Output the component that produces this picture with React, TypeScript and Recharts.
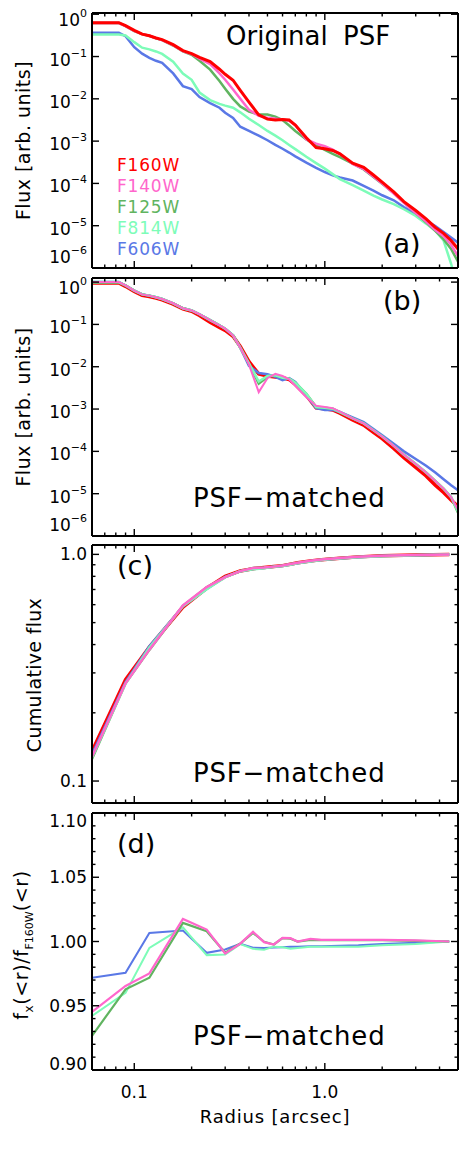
import React from 'react';
import { LineChart, Line, XAxis, YAxis } from 'recharts';

const FONT = '"DejaVu Sans", "Liberation Sans", sans-serif';

// ---------- radii ----------
const profileRadius = [0.06, 0.083, 0.09, 0.1, 0.11, 0.12, 0.13, 0.14, 0.16, 0.18, 0.2, 0.22, 0.25, 0.28, 0.3, 0.33, 0.36, 0.4, 0.45, 0.5, 0.55, 0.6, 0.65, 0.7, 0.8, 0.9, 1.0, 1.1, 1.2, 1.4, 1.6, 1.8, 2.0, 2.3, 2.6, 3.0, 3.4, 3.8, 4.2, 4.6, 5.0];
const apertureRadius = [0.06, 0.09, 0.12, 0.18, 0.24, 0.3, 0.36, 0.42, 0.48, 0.54, 0.6, 0.66, 0.72, 0.84, 0.96, 1.2, 1.5, 2.0, 3.0, 4.5];

// ---------- (a) original PSF profiles ----------
const origF160W = [6.31e-1, 6.31e-1, 5.37e-1, 4.17e-1, 3.39e-1, 3.09e-1, 2.75e-1, 2.51e-1, 1.91e-1, 1.38e-1, 1.17e-1, 9.55e-2, 7.59e-2, 5.01e-2, 3.8e-2, 2.75e-2, 1.58e-2, 8.32e-3, 4.17e-3, 3.31e-3, 3.16e-3, 3.24e-3, 3.16e-3, 2.4e-3, 1.2e-3, 7.08e-4, 6.61e-4, 6.03e-4, 5.01e-4, 3.02e-4, 2.4e-4, 1.58e-4, 1.07e-4, 6.31e-5, 3.72e-5, 2.29e-5, 1.45e-5, 9.12e-6, 6.61e-6, 4.47e-6, 2.82e-6];
const origF140W = [6.17e-1, 6.17e-1, 5.25e-1, 4.07e-1, 3.39e-1, 3.09e-1, 2.75e-1, 2.45e-1, 1.86e-1, 1.35e-1, 1.15e-1, 8.91e-2, 6.61e-2, 3.98e-2, 2.82e-2, 1.66e-2, 1.0e-2, 5.5e-3, 3.98e-3, 3.55e-3, 3.39e-3, 3.24e-3, 3.02e-3, 2.4e-3, 1.1e-3, 8.71e-4, 7.59e-4, 6.31e-4, 5.01e-4, 2.88e-4, 2.19e-4, 1.45e-4, 1.0e-4, 5.75e-5, 3.47e-5, 2.0e-5, 1.26e-5, 7.94e-6, 5.62e-6, 3.55e-6, 1.91e-6];
const origF125W = [6.17e-1, 6.17e-1, 5.25e-1, 3.98e-1, 3.39e-1, 3.09e-1, 2.69e-1, 2.45e-1, 1.82e-1, 1.32e-1, 1.1e-1, 7.94e-2, 4.9e-2, 2.63e-2, 1.74e-2, 1.0e-2, 6.61e-3, 5.01e-3, 4.27e-3, 4.27e-3, 3.8e-3, 3.16e-3, 2.34e-3, 1.74e-3, 1.1e-3, 7.94e-4, 6.17e-4, 5.01e-4, 4.17e-4, 2.95e-4, 2.14e-4, 1.41e-4, 9.77e-5, 5.89e-5, 3.55e-5, 2.0e-5, 1.2e-5, 7.59e-6, 4.79e-6, 2.82e-6, 1.41e-6];
const origF814W = [3.31e-1, 3.31e-1, 3.16e-1, 2.19e-1, 1.62e-1, 1.48e-1, 1.32e-1, 1.15e-1, 7.59e-2, 3.98e-2, 2.82e-2, 1.41e-2, 9.33e-3, 7.59e-3, 6.92e-3, 6.17e-3, 4.79e-3, 3.39e-3, 2.4e-3, 1.74e-3, 1.35e-3, 1.05e-3, 8.13e-4, 6.46e-4, 4.27e-4, 3.02e-4, 2.24e-4, 1.66e-4, 1.26e-4, 9.12e-5, 6.76e-5, 5.13e-5, 4.17e-5, 3.24e-5, 2.45e-5, 1.7e-5, 1.12e-5, 7.59e-6, 4.47e-6, 1.26e-6, 3.16e-7];
const origF606W = [3.63e-1, 3.63e-1, 3.02e-1, 1.66e-1, 1.17e-1, 9.33e-2, 7.94e-2, 7.08e-2, 3.98e-2, 2.0e-2, 1.7e-2, 1.1e-2, 7.94e-3, 6.17e-3, 4.68e-3, 3.55e-3, 2.19e-3, 1.74e-3, 1.35e-3, 1.05e-3, 8.13e-4, 6.61e-4, 5.37e-4, 4.37e-4, 3.09e-4, 2.34e-4, 1.86e-4, 1.55e-4, 1.38e-4, 1.17e-4, 8.71e-5, 6.76e-5, 5.25e-5, 3.98e-5, 2.75e-5, 1.86e-5, 1.32e-5, 9.77e-6, 7.08e-6, 5.25e-6, 3.98e-6];

// ---------- (b) PSF-matched profiles ----------
const matchF160W = [9.55e-1, 9.55e-1, 7.94e-1, 6.03e-1, 4.9e-1, 4.57e-1, 4.17e-1, 3.8e-1, 3.02e-1, 2.34e-1, 2.04e-1, 1.62e-1, 1.12e-1, 8.51e-2, 7.24e-2, 5.25e-2, 3.02e-2, 1.32e-2, 6.76e-3, 6.03e-3, 5.75e-3, 5.5e-3, 5.01e-3, 3.8e-3, 2.09e-3, 1.07e-3, 1.02e-3, 9.55e-4, 7.94e-4, 5.5e-4, 4.17e-4, 2.82e-4, 2.0e-4, 1.17e-4, 7.08e-5, 4.17e-5, 2.63e-5, 1.58e-5, 1.07e-5, 7.08e-6, 5.01e-6];
const matchF140W = [1.0, 1.0, 8.32e-1, 6.31e-1, 5.13e-1, 4.79e-1, 4.37e-1, 3.98e-1, 3.16e-1, 2.4e-1, 2.14e-1, 1.74e-1, 1.26e-1, 9.55e-2, 7.94e-2, 5.5e-2, 2.82e-2, 1.12e-2, 2.51e-3, 5.37e-3, 6.76e-3, 6.03e-3, 5.01e-3, 3.55e-3, 1.91e-3, 1.2e-3, 1.12e-3, 1.05e-3, 8.71e-4, 6.03e-4, 4.57e-4, 3.16e-4, 2.24e-4, 1.35e-4, 8.32e-5, 5.01e-5, 3.16e-5, 2.0e-5, 1.32e-5, 8.32e-6, 4.17e-6];
const matchF125W = [9.77e-1, 9.77e-1, 8.32e-1, 6.31e-1, 5.13e-1, 4.79e-1, 4.37e-1, 3.98e-1, 3.16e-1, 2.4e-1, 2.14e-1, 1.74e-1, 1.26e-1, 9.55e-2, 7.94e-2, 5.5e-2, 2.82e-2, 1.17e-2, 3.98e-3, 5.75e-3, 6.31e-3, 5.5e-3, 5.25e-3, 4.17e-3, 2.29e-3, 1.12e-3, 1.07e-3, 1.02e-3, 8.51e-4, 6.03e-4, 4.57e-4, 3.16e-4, 2.24e-4, 1.35e-4, 8.32e-5, 5.01e-5, 3.16e-5, 2.0e-5, 1.32e-5, 8.32e-6, 3.55e-6];
const matchF814W = [1.0, 1.0, 8.32e-1, 6.31e-1, 5.13e-1, 4.79e-1, 4.37e-1, 3.98e-1, 3.16e-1, 2.4e-1, 2.14e-1, 1.74e-1, 1.26e-1, 9.55e-2, 7.94e-2, 5.5e-2, 2.82e-2, 1.2e-2, 4.47e-3, 6.03e-3, 6.31e-3, 5.5e-3, 5.25e-3, 4.17e-3, 2.29e-3, 1.12e-3, 1.07e-3, 1.02e-3, 8.51e-4, 6.03e-4, 4.57e-4, 3.16e-4, 2.24e-4, 1.35e-4, 8.32e-5, 5.01e-5, 3.16e-5, 2.0e-5, 1.32e-5, 8.32e-6, 3.8e-6];
const matchF606W = [1.0, 1.0, 8.32e-1, 6.31e-1, 5.13e-1, 4.79e-1, 4.37e-1, 3.98e-1, 3.16e-1, 2.4e-1, 2.14e-1, 1.74e-1, 1.26e-1, 9.55e-2, 7.94e-2, 5.5e-2, 2.82e-2, 1.05e-2, 7.08e-3, 6.61e-3, 5.75e-3, 4.79e-3, 5.37e-3, 4.37e-3, 2.09e-3, 1.05e-3, 9.55e-4, 9.55e-4, 8.51e-4, 6.31e-4, 4.9e-4, 3.39e-4, 2.4e-4, 1.51e-4, 1.0e-4, 6.61e-5, 4.57e-5, 3.16e-5, 2.19e-5, 1.58e-5, 1.2e-5];

// ---------- (c) cumulative flux ----------
const cumF160W = [0.135, 0.28, 0.39, 0.585, 0.71, 0.8, 0.845, 0.865, 0.875, 0.885, 0.892, 0.905, 0.918, 0.935, 0.948, 0.962, 0.975, 0.985, 0.993, 1.0];
const cumF140W = [0.128, 0.27, 0.38, 0.595, 0.717, 0.793, 0.844, 0.871, 0.875, 0.883, 0.894, 0.907, 0.918, 0.937, 0.949, 0.963, 0.976, 0.986, 0.993, 1.0];
const cumF125W = [0.125, 0.27, 0.379, 0.593, 0.716, 0.793, 0.844, 0.871, 0.875, 0.883, 0.894, 0.907, 0.918, 0.936, 0.949, 0.963, 0.976, 0.986, 0.993, 1.0];
const cumF814W = [0.127, 0.269, 0.388, 0.591, 0.702, 0.792, 0.843, 0.86, 0.869, 0.881, 0.888, 0.9, 0.913, 0.931, 0.944, 0.958, 0.971, 0.982, 0.991, 1.0];
const cumF606W = [0.131, 0.273, 0.393, 0.59, 0.704, 0.795, 0.843, 0.861, 0.871, 0.881, 0.888, 0.901, 0.914, 0.932, 0.945, 0.959, 0.972, 0.983, 0.992, 1.0];

// ---------- (d) ratio to F160W ----------
const ratioF140W = [0.9452, 0.9654, 0.9752, 1.0176, 1.0093, 0.9907, 0.9984, 1.0075, 0.9995, 0.9977, 1.0028, 1.0026, 1.0, 1.002, 1.0012, 1.0012, 1.0012, 1.0012, 1.0008, 1.0];
const ratioF125W = [0.9266, 0.9628, 0.9718, 1.0145, 1.008, 0.9912, 0.9984, 1.0067, 0.9998, 0.9977, 1.0026, 1.0022, 1.0, 1.0012, 1.001, 1.001, 1.001, 1.001, 1.0005, 1.0];
const ratioF814W = [0.942, 0.96, 0.995, 1.011, 0.9894, 0.9899, 0.998, 0.9943, 0.9936, 0.996, 0.9955, 0.9943, 0.995, 0.996, 0.996, 0.996, 0.996, 0.997, 0.998, 1.0];
const ratioF606W = [0.9718, 0.9757, 1.0067, 1.0085, 0.9912, 0.9938, 0.9982, 0.9951, 0.995, 0.9953, 0.9956, 0.996, 0.996, 0.9964, 0.9964, 0.9966, 0.997, 0.998, 0.999, 1.0];

// ---------- ticks ----------
const xTickValues = [0.07, 0.08, 0.09, 0.1, 0.2, 0.3, 0.4, 0.5, 0.6, 0.7, 0.8, 0.9, 1, 2, 3, 4];
const xLabelValues = [0.1, 1];
const xLabelTexts = ['0.1', '1.0'];
const fluxTicks = [1e-6, 1e-5, 1e-4, 1e-3, 1e-2, 1e-1, 1];
const fluxExponents = ['\u22126', '\u22125', '\u22124', '\u22123', '\u22122', '\u22121', '0'];
const cumTicks = [0.1, 0.2, 0.3, 0.4, 0.5, 0.6, 0.7, 0.8, 0.9, 1.0];
const cumLabelValues = [0.1, 1.0];
const cumLabelTexts = ['0.1', '1.0'];
const ratioTicks = [0.9, 0.91, 0.92, 0.93, 0.94, 0.95, 0.96, 0.97, 0.98, 0.99, 1.0, 1.01, 1.02, 1.03, 1.04, 1.05, 1.06, 1.07, 1.08, 1.09, 1.1];
const ratioLabelValues = [0.9, 0.95, 1.0, 1.05, 1.1];
const ratioLabelTexts = ['0.90', '0.95', '1.00', '1.05', '1.10'];

const legendNames = ['F160W', 'F140W', 'F125W', 'F814W', 'F606W'];
const COLORS: Record<string, string> = {
  F160W: '#ff0000',
  F140W: '#ff66cc',
  F125W: '#60b460',
  F814W: '#7dfcb8',
  F606W: '#5a78e6',
};

// ---------- tables ----------
const profileRows = profileRadius.map((r, i) => ({
  r, F160W: origF160W[i], F140W: origF140W[i], F125W: origF125W[i], F814W: origF814W[i], F606W: origF606W[i],
}));
const matchedRows = profileRadius.map((r, i) => ({
  r, F160W: matchF160W[i], F140W: matchF140W[i], F125W: matchF125W[i], F814W: matchF814W[i], F606W: matchF606W[i],
}));
const cumRows = apertureRadius.map((r, i) => ({
  r, F160W: cumF160W[i], F140W: cumF140W[i], F125W: cumF125W[i], F814W: cumF814W[i], F606W: cumF606W[i],
}));
const ratioRows = apertureRadius.map((r, i) => ({
  r, F140W: ratioF140W[i], F125W: ratioF125W[i], F814W: ratioF814W[i], F606W: ratioF606W[i],
}));

const W = 463;
const PLOT_LEFT = 92;
const PLOT_RIGHT = 458;
const near = (a: number, b: number) => Math.abs(a - b) <= 1e-6 * Math.max(Math.abs(a), Math.abs(b));

function makeXTick(side: 'bottom' | 'top', labels: boolean) {
  return (p: any) => {
    const v = p.payload.value;
    const li = xLabelValues.findIndex((t) => near(t, v));
    const len = li >= 0 ? 7 : 3.5;
    const dir = side === 'bottom' ? -1 : 1;
    return (
      <g>
        <line x1={p.x} x2={p.x} y1={p.y} y2={p.y + dir * len} stroke="#000" strokeWidth={1.4} />
        {labels && li >= 0 && (
          <text x={p.x} y={p.y + 28} textAnchor="middle" fontSize={17} fontFamily={FONT} fill="#000">
            {xLabelTexts[li]}
          </text>
        )}
      </g>
    );
  };
}

type Kind = 'flux' | 'cum' | 'ratio';

function makeYTick(side: 'left' | 'right', kind: Kind) {
  return (p: any) => {
    const v = p.payload.value;
    const x = p.x;
    const y = p.y;
    const dir = side === 'left' ? 1 : -1;
    let major = true;
    let label: React.ReactNode = null;
    if (kind === 'flux') {
      const i = fluxTicks.findIndex((t) => near(t, v));
      const base = i === fluxTicks.length - 1 ? y + 12 : i === 0 ? y - 5 : y + 9;
      if (side === 'left' && i >= 0) {
        label = (
          <text x={x - 5} y={base} textAnchor="end" fontSize={17} fontFamily={FONT} fill="#000">
            <tspan>10</tspan>
            <tspan dy={-9} fontSize={11}>{fluxExponents[i]}</tspan>
          </text>
        );
      }
    } else if (kind === 'cum') {
      const i = cumLabelValues.findIndex((t) => near(t, v));
      major = i >= 0;
      if (side === 'left' && major) {
        label = (
          <text x={x - 5} y={y + 6} textAnchor="end" fontSize={17} fontFamily={FONT} fill="#000">
            {cumLabelTexts[i]}
          </text>
        );
      }
    } else {
      const i = ratioLabelValues.findIndex((t) => near(t, v));
      major = i >= 0;
      const base = i === ratioLabelValues.length - 1 ? y + 14 : i === 0 ? y : y + 6;
      if (side === 'left' && major) {
        label = (
          <text x={x - 5} y={base} textAnchor="end" fontSize={17} fontFamily={FONT} fill="#000">
            {ratioLabelTexts[i]}
          </text>
        );
      }
    }
    const len = major ? 7 : 3.5;
    return (
      <g>
        <line x1={x} x2={x + dir * len} y1={y} y2={y} stroke="#000" strokeWidth={1.4} />
        {label}
      </g>
    );
  };
}

type Series = { key: string; width: number };

function Panel(props: {
  plotTop: number;
  plotBottom: number;
  extraBottom: number;
  data: any[];
  yScale: 'log' | 'linear';
  yDomain: [number, number];
  yTicks: number[];
  kind: Kind;
  series: Series[];
  xLabels: boolean;
}) {
  const { plotTop, plotBottom, extraBottom, data, yScale, yDomain, yTicks, kind, series, xLabels } = props;
  const mTop = 4; // plus 1px top axis
  const mBottom = 4 + extraBottom; // plus 1px bottom axis
  const height = plotBottom - plotTop + mTop + mBottom + 2;
  const axisLine = { stroke: '#000', strokeWidth: 2 };
  return (
    <div style={{ position: 'absolute', left: 0, top: plotTop - mTop - 1, width: W, height }}>
      <LineChart width={W} height={height} data={data} margin={{ top: mTop, right: W - PLOT_RIGHT - 1, bottom: mBottom, left: 0 }}>
        <XAxis xAxisId="b" dataKey="r" type="number" scale="log" domain={[0.06, 5]} allowDataOverflow
          ticks={xTickValues} interval={0} tickSize={0} tickMargin={0} height={1}
          axisLine={axisLine} tickLine={false} tick={makeXTick('bottom', xLabels)} />
        <XAxis xAxisId="t" orientation="top" dataKey="r" type="number" scale="log" domain={[0.06, 5]} allowDataOverflow
          ticks={xTickValues} interval={0} tickSize={0} tickMargin={0} height={1}
          axisLine={axisLine} tickLine={false} tick={makeXTick('top', false)} />
        <YAxis yAxisId="l" type="number" scale={yScale} domain={yDomain} allowDataOverflow
          ticks={yTicks} interval={0} tickSize={0} tickMargin={0} width={PLOT_LEFT}
          axisLine={axisLine} tickLine={false} tick={makeYTick('left', kind)} />
        <YAxis yAxisId="r" orientation="right" type="number" scale={yScale} domain={yDomain} allowDataOverflow
          ticks={yTicks} interval={0} tickSize={0} tickMargin={0} width={1}
          axisLine={axisLine} tickLine={false} tick={makeYTick('right', kind)} />
        {series.map((s) => (
          <Line key={s.key} xAxisId="b" yAxisId="l" dataKey={s.key} type="linear" stroke={COLORS[s.key]}
            strokeWidth={s.width} dot={false} activeDot={false} isAnimationActive={false} />
        ))}
      </LineChart>
    </div>
  );
}

const seriesA: Series[] = [
  { key: 'F606W', width: 2.5 },
  { key: 'F814W', width: 2.5 },
  { key: 'F125W', width: 2.5 },
  { key: 'F140W', width: 2.5 },
  { key: 'F160W', width: 3 },
];
const seriesB: Series[] = [
  { key: 'F160W', width: 3.5 },
  { key: 'F606W', width: 2.5 },
  { key: 'F125W', width: 2.5 },
  { key: 'F814W', width: 2.5 },
  { key: 'F140W', width: 2 },
];
const seriesC: Series[] = [
  { key: 'F160W', width: 3.5 },
  { key: 'F606W', width: 2.5 },
  { key: 'F125W', width: 2.5 },
  { key: 'F814W', width: 2.5 },
  { key: 'F140W', width: 2.5 },
];
const seriesD: Series[] = [
  { key: 'F606W', width: 2 },
  { key: 'F814W', width: 2 },
  { key: 'F125W', width: 2.2 },
  { key: 'F140W', width: 2.2 },
];

export default function App() {
  const titleStyle = { fontFamily: FONT, fill: '#000' } as const;
  return (
    <div style={{ position: 'absolute', left: 0, top: 0, width: W, height: 1158, background: '#fff' }}>
      <Panel plotTop={13} plotBottom={268} extraBottom={0} data={profileRows} yScale="log" yDomain={[1e-6, 1.07]}
        yTicks={fluxTicks} kind="flux" series={seriesA} xLabels={false} />
      <Panel plotTop={278} plotBottom={536} extraBottom={0} data={matchedRows} yScale="log" yDomain={[1e-6, 1.25]}
        yTicks={fluxTicks} kind="flux" series={seriesB} xLabels={false} />
      <Panel plotTop={545} plotBottom={803} extraBottom={0} data={cumRows} yScale="log" yDomain={[0.08, 1.1]}
        yTicks={cumTicks} kind="cum" series={seriesC} xLabels={false} />
      <Panel plotTop={813} plotBottom={1070} extraBottom={60} data={ratioRows} yScale="linear" yDomain={[0.9, 1.1]}
        yTicks={ratioTicks} kind="ratio" series={seriesD} xLabels={true} />
      <svg width={W} height={1158} style={{ position: 'absolute', left: 0, top: 0, pointerEvents: 'none' }}>
        <text x={226} y={45} fontSize={26} {...titleStyle}>Original</text>
        <text x={343} y={45} fontSize={26} {...titleStyle}>PSF</text>
        {legendNames.map((n, i) => (
          <text key={n} x={117} y={[171, 192, 212.5, 233.5, 255][i]} fontSize={17} letterSpacing={0.8}
            fontFamily={FONT} fill={COLORS[n]}>{n}</text>
        ))}
        <text x={383} y={253} fontSize={27} {...titleStyle}>(a)</text>
        <text x={383} y={310} fontSize={27} {...titleStyle}>(b)</text>
        <text x={117} y={575} fontSize={27} {...titleStyle}>(c)</text>
        <text x={117} y={853} fontSize={27} {...titleStyle}>(d)</text>
        <text x={193} y={507} fontSize={26} letterSpacing={0.8} {...titleStyle}>PSF{'\u2212'}matched</text>
        <text x={193} y={782} fontSize={26} letterSpacing={0.8} {...titleStyle}>PSF{'\u2212'}matched</text>
        <text x={193} y={1045} fontSize={26} letterSpacing={0.8} {...titleStyle}>PSF{'\u2212'}matched</text>
        <text x={30} y={140.5} transform="rotate(-90 30 140.5)" textAnchor="middle" fontSize={19} letterSpacing={0.5} {...titleStyle}>Flux [arb. units]</text>
        <text x={30} y={407} transform="rotate(-90 30 407)" textAnchor="middle" fontSize={19} letterSpacing={0.5} {...titleStyle}>Flux [arb. units]</text>
        <text x={41} y={675} transform="rotate(-90 41 675)" textAnchor="middle" fontSize={19} letterSpacing={0.3} {...titleStyle}>Cumulative flux</text>
        <text x={28} y={945} transform="rotate(-90 28 945)" textAnchor="middle" fontSize={19} letterSpacing={0.6} {...titleStyle}>
          <tspan>f</tspan>
          <tspan dy={5} fontSize={12}>x</tspan>
          <tspan dy={-5}>({'<'}r)/f</tspan>
          <tspan dy={5} fontSize={11} letterSpacing={0}>F160W</tspan>
          <tspan dy={-5}>({'<'}r)</tspan>
        </text>
        <text x={275} y={1123} textAnchor="middle" fontSize={18} letterSpacing={0.8} {...titleStyle}>Radius [arcsec]</text>
      </svg>
    </div>
  );
}
